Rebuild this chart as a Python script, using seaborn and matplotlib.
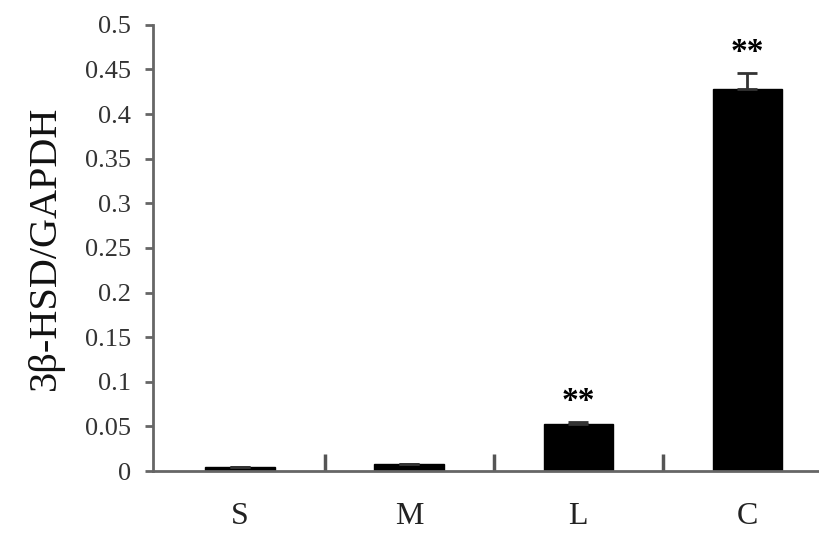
import numpy as np
import pandas as pd
import matplotlib
matplotlib.use("Agg")
import matplotlib.pyplot as plt
import seaborn as sns

# data
groups = ["S", "M", "L", "C"]
ratio = [0.004, 0.008, 0.053, 0.428]
err = [0.0, 0.0, 0.002, 0.018]
marks = ["", "", "**", "**"]
yticks = [0, 0.05, 0.1, 0.15, 0.2, 0.25, 0.3, 0.35, 0.4, 0.45, 0.5]
ytick_labels = ["0", "0.05", "0.1", "0.15", "0.2", "0.25", "0.3", "0.35", "0.4", "0.45", "0.5"]

sns.set_style("white")
plt.rcParams['font.family'] = ['Liberation Serif', 'DejaVu Serif']

df = pd.DataFrame({"group": groups, "ratio": ratio})

fig = plt.figure(figsize=(8.2, 5.35), dpi=100)
ax = fig.add_axes([0.1866, 0.1196, 0.8134, 0.834])

sns.barplot(data=df, x="group", y="ratio", color="black", width=0.41,
            saturation=1, ax=ax, edgecolor="black")
xs = np.arange(len(groups))
ax.errorbar(xs, ratio, yerr=[np.zeros(len(err)), err], fmt="none",
            ecolor="#333333", elinewidth=2, capsize=7, capthick=2)
for x, v, e, m in zip(xs, ratio, err, marks):
    if m:
        ax.text(x, v + e + 0.006, m, ha="center", va="bottom",
                fontsize=24, fontweight="bold", color="black")

ax.set_xlim(-0.515, 3.43)
ax.set_ylim(0, 0.5)
ax.set_yticks(yticks)
ax.set_yticklabels(ytick_labels, fontsize=19, color="#333333")

# separators between groups point up, names sit lower as minor labels
ax.set_xticks([0.5, 1.5, 2.5])
ax.set_xticklabels([])
ax.set_xticks(xs, minor=True)
ax.set_xticklabels(groups, minor=True, fontsize=23, color="#222222")
ax.tick_params(axis="x", which="major", direction="in", length=12, width=2.5,
               color="#555555", bottom=True)
ax.tick_params(axis="x", which="minor", length=0, pad=22)
ax.tick_params(axis="y", direction="out", length=6, width=2, color="#666666",
               left=True, pad=10)

ax.set_xlabel("")
ax.set_ylabel("3β-HSD/GAPDH", fontsize=29, color="#111111", labelpad=15)

sns.despine(ax=ax, top=True, right=True)
for s in ["left", "bottom"]:
    ax.spines[s].set_color("#666666")
    ax.spines[s].set_linewidth(2)

fig.savefig("out.png", dpi=100)
